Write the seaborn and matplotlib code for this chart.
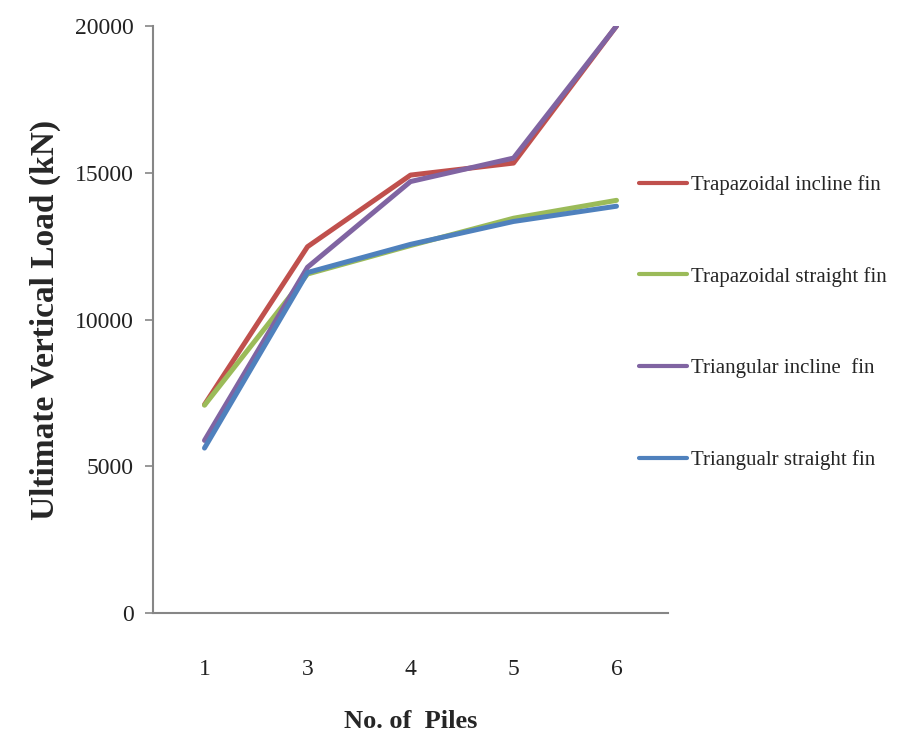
import matplotlib
matplotlib.use("Agg")
import matplotlib.pyplot as plt
import seaborn as sns
import pandas as pd
from matplotlib.lines import Line2D

piles = ["1", "3", "4", "5", "6"]
trap_incline = [7100, 12480, 14920, 15330, 20000]
trap_straight = [7080, 11550, 12520, 13450, 14060]
tri_incline = [5880, 11780, 14700, 15500, 20000]
tri_straight = [5620, 11600, 12560, 13340, 13860]

series_names = ["Trapazoidal incline fin", "Trapazoidal straight fin",
                "Triangular incline  fin", "Triangualr straight fin"]
series_vals = [trap_incline, trap_straight, tri_incline, tri_straight]
colors = ["#C0504D", "#9BBB59", "#8064A2", "#4F81BD"]

rows = []
for name, vals in zip(series_names, series_vals):
    for p, v in zip(piles, vals):
        rows.append({"piles": p, "load": v, "series": name})
df = pd.DataFrame(rows)

sns.set_theme(style="white")
plt.rcParams["font.family"] = ["Liberation Serif", "DejaVu Serif"]

fig = plt.figure(figsize=(9.14, 7.4), dpi=100)
ax = fig.add_axes([153 / 914, 1 - 613 / 740, (668 - 153) / 914, (613 - 26) / 740])

sns.lineplot(data=df, x="piles", y="load", hue="series", hue_order=series_names,
             palette=colors, linewidth=3.6, ax=ax, legend=False, sort=False)

ax.set_xlim(-0.5, 4.5)
ax.set_ylim(0, 20000)
ax.set_yticks([0, 5000, 10000, 15000, 20000])
ax.set_yticklabels(["0", "5000", "10000", "15000", "20000"], fontsize=17, color="#222222")
ax.set_xticks(range(len(piles)))
ax.set_xticklabels(piles, fontsize=17, color="#222222")
ax.tick_params(axis="y", which="both", left=True, length=6, width=1.2, color="#868686", pad=8)
ax.tick_params(axis="x", which="both", bottom=False, pad=27)

for s in ["top", "right"]:
    ax.spines[s].set_visible(False)
for s in ["left", "bottom"]:
    ax.spines[s].set_color("#868686")
    ax.spines[s].set_linewidth(1.5)

ax.set_xlabel("No. of  Piles", fontsize=19, fontweight="bold", labelpad=22)
ax.set_ylabel("Ultimate Vertical Load (kN)", fontsize=24, fontweight="bold", labelpad=10)

handles = [Line2D([0], [0], color=c, linewidth=3) for c in colors]
fig.legend(handles, series_names, loc="upper left",
           bbox_to_anchor=(639 / 914, 1 - 175 / 740), frameon=False,
           fontsize=15, handlelength=2.3, handletextpad=0.2,
           labelspacing=3.45, borderpad=0, borderaxespad=0)

fig.savefig("out.png", dpi=100)
